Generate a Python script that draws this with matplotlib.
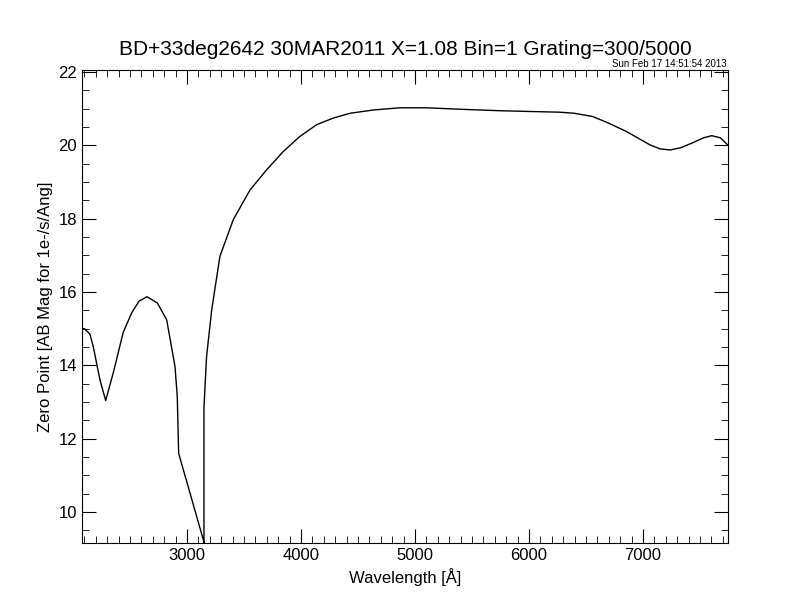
import matplotlib.pyplot as plt
from matplotlib.ticker import MultipleLocator

plt.rcParams['font.family'] = ['Liberation Sans', 'DejaVu Sans']

# wavelength [A] and zero point
wave = [2079, 2100, 2149, 2178, 2237, 2287, 2354, 2441, 2515, 2580, 2649, 2740,
        2822, 2895, 2915, 2927, 3143, 3149, 3149, 3172, 3217, 3289, 3406, 3553,
        3699, 3845, 3991, 4138, 4284, 4430, 4634, 4868, 5102, 5400, 5746, 6000,
        6272, 6400, 6561, 6700, 6857, 7061, 7150, 7237, 7330, 7439, 7530, 7603,
        7680, 7746]
zp = [15.0, 15.0, 14.85, 14.51, 13.6, 13.04, 13.8, 14.9, 15.43, 15.75, 15.87, 15.7,
      15.24, 13.97, 13.15, 11.6, 9.25, 9.15, 12.84, 14.24, 15.51, 16.97, 17.97, 18.78,
      19.33, 19.83, 20.24, 20.56, 20.74, 20.87, 20.96, 21.02, 21.02, 20.98, 20.94, 20.92,
      20.9, 20.87, 20.78, 20.6, 20.37, 20.01, 19.9, 19.87, 19.93, 20.07, 20.2, 20.26,
      20.2, 20.0]

fig = plt.figure(figsize=(7.92, 6.12), dpi=100)
ax = fig.add_axes([0.1035, 0.1127, 0.8157, 0.7729])
ax.plot(wave, zp, color='black', linewidth=1)

ax.set_xlim(2079, 7746)
ax.set_ylim(9.155, 22.05)
ax.xaxis.set_major_locator(MultipleLocator(1000))
ax.xaxis.set_minor_locator(MultipleLocator(100))
ax.yaxis.set_major_locator(MultipleLocator(2))
ax.yaxis.set_minor_locator(MultipleLocator(0.5))
ax.tick_params(which='both', direction='in', top=True, right=True, labelsize=12)
ax.tick_params(which='major', length=10)
ax.tick_params(which='minor', length=5)

ax.set_xlabel('Wavelength [Å]', fontsize=12)
ax.set_ylabel('Zero Point [AB Mag for 1e-/s/Ang]', fontsize=12)
ax.set_title('BD+33deg2642 30MAR2011 X=1.08 Bin=1 Grating=300/5000', fontsize=15, pad=11)
fig.text(0.918, 0.888, 'Sun Feb 17 14:51:54 2013', fontsize=7, ha='right', va='bottom')

fig.savefig('out.png')
